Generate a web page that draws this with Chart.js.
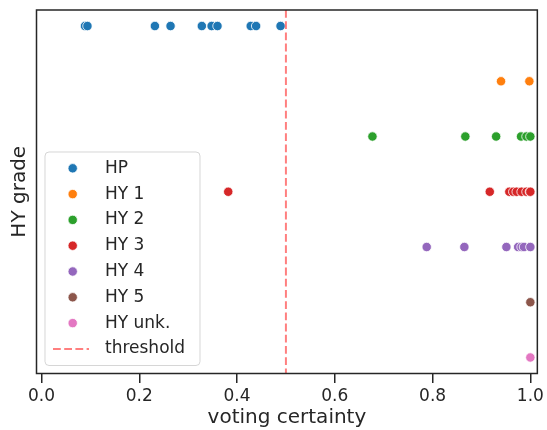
<!DOCTYPE html>
<html>
<head>
<meta charset="utf-8">
<script src="https://cdn.jsdelivr.net/npm/chart.js@4.4.0/dist/chart.umd.min.js"></script>
<style>
  html, body { margin: 0; padding: 0; background: #fff; }
  canvas { display: block; }
</style>
</head>
<body>
<canvas id="c" width="547" height="430"></canvas>
<script>
// ---- data ----
const categories = ['HP', 'HY 1', 'HY 2', 'HY 3', 'HY 4', 'HY 5', 'HY unk.'];
const hpValues    = [0.089, 0.094, 0.232, 0.264, 0.328, 0.348, 0.360, 0.428, 0.439, 0.489];
const hy1Values   = [0.940, 0.998];
const hy2Values   = [0.677, 0.867, 0.930, 0.981, 0.992, 1.0];
const hy3Values   = [0.382, 0.917, 0.957, 0.965, 0.972, 0.982, 0.992, 0.999, 1.0];
const hy4Values   = [0.788, 0.865, 0.951, 0.975, 0.982, 0.987, 1.0];
const hy5Values   = [1.0];
const hyUnkValues = [1.0];
const thresholdValue = 0.5;
const thresholdLabel = 'threshold';
const xTickValues = [0.0, 0.2, 0.4, 0.6, 0.8, 1.0];
const xAxisTitle = 'voting certainty';
const yAxisTitle = 'HY grade';

const seriesValues = [hpValues, hy1Values, hy2Values, hy3Values, hy4Values, hy5Values, hyUnkValues];

// ---- style ----
const palette = ['#1f77b4', '#ff7f0e', '#2ca02c', '#d62728', '#9467bd', '#8c564b', '#e377c2'];
const textColor = '#262626';
const fontFamily = '"DejaVu Sans", sans-serif';
const xMin = -0.0102, xMax = 1.0143;
const yMin = -0.29, yMax = 6.29;

const pointDatasets = categories.map((name, i) => ({
  label: name,
  type: 'scatter',
  data: seriesValues[i].map(v => ({ x: v, y: i })),
  backgroundColor: palette[i],
  borderColor: '#ffffff',
  pointRadius: 4.7,
  pointBorderWidth: 0.8,
  pointHoverRadius: 4.7,
}));

const thresholdDataset = {
  label: thresholdLabel,
  type: 'line',
  data: [{ x: thresholdValue, y: yMin }, { x: thresholdValue, y: yMax }],
  borderColor: 'rgba(255,0,0,0.5)',
  borderWidth: 2,
  borderDash: [7.8, 3.4],
  pointRadius: 0,
  fill: false,
  isThreshold: true,
};

const framePlugin = {
  id: 'frame',
  afterDraw(chart) {
    const { ctx, chartArea: a } = chart;
    ctx.save();
    ctx.strokeStyle = textColor;
    ctx.lineWidth = 1.5;
    ctx.strokeRect(a.left, a.top, a.right - a.left, a.bottom - a.top);
    ctx.restore();
  }
};

const legendPlugin = {
  id: 'innerLegend',
  afterDraw(chart) {
    const { ctx, chartArea: a } = chart;
    const ds = chart.data.datasets;
    const ordered = ds.filter(d => !d.isThreshold).concat(ds.filter(d => d.isThreshold));
    const boxL = a.left + 8.5, boxR = a.left + 163.5;
    const boxB = a.bottom - 8, boxT = boxB - 213.5;
    ctx.save();
    ctx.beginPath();
    const r = 4;
    ctx.moveTo(boxL + r, boxT);
    ctx.arcTo(boxR, boxT, boxR, boxB, r);
    ctx.arcTo(boxR, boxB, boxL, boxB, r);
    ctx.arcTo(boxL, boxB, boxL, boxT, r);
    ctx.arcTo(boxL, boxT, boxR, boxT, r);
    ctx.closePath();
    ctx.fillStyle = 'rgba(255,255,255,0.8)';
    ctx.fill();
    ctx.strokeStyle = 'rgba(204,204,204,0.8)';
    ctx.lineWidth = 1;
    ctx.stroke();
    ctx.font = '17px ' + fontFamily;
    ctx.textBaseline = 'middle';
    ctx.fillStyle = textColor;
    ordered.forEach((d, i) => {
      const y = boxT + 16.3 + i * 25.8;
      if (d.isThreshold) {
        ctx.save();
        ctx.strokeStyle = d.borderColor;
        ctx.lineWidth = d.borderWidth;
        ctx.setLineDash(d.borderDash);
        ctx.beginPath();
        ctx.moveTo(boxL + 8, y);
        ctx.lineTo(boxL + 44, y);
        ctx.stroke();
        ctx.restore();
      } else {
        ctx.beginPath();
        ctx.arc(boxL + 27.7, y, 4.7, 0, Math.PI * 2);
        ctx.fillStyle = d.backgroundColor;
        ctx.fill();
        ctx.strokeStyle = '#fff';
        ctx.lineWidth = 0.8;
        ctx.stroke();
      }
      ctx.fillStyle = textColor;
      ctx.fillText(d.label, boxL + 60, y);
    });
    ctx.restore();
  }
};

new Chart(document.getElementById('c'), {
  type: 'scatter',
  data: { datasets: [thresholdDataset].concat(pointDatasets) },
  options: {
    responsive: false,
    devicePixelRatio: 1,
    animation: false,
    layout: { padding: { top: 10, right: 9.5, left: 0, bottom: 0 } },
    plugins: { legend: { display: false }, tooltip: { enabled: false } },
    scales: {
      x: {
        type: 'linear',
        min: xMin,
        max: xMax,
        afterBuildTicks: s => { s.ticks = xTickValues.map(v => ({ value: v })); },
        afterFit: s => { s.height = 56.5; },
        ticks: {
          font: { family: fontFamily, size: 17 },
          color: textColor,
          padding: 3,
          maxRotation: 0,
          autoSkip: false,
          callback: v => Number(v).toFixed(1),
        },
        grid: { display: true, drawOnChartArea: false, drawTicks: true, tickLength: 9.5, lineWidth: 1.5, color: textColor },
        border: { display: false },
        title: { display: true, text: xAxisTitle, color: textColor, font: { family: fontFamily, size: 20 }, padding: { top: 0, bottom: 0 } },
      },
      y: {
        type: 'linear',
        reverse: true,
        min: yMin,
        max: yMax,
        afterFit: s => { s.width = 36.5; },
        ticks: { display: false },
        grid: { display: false },
        border: { display: false },
        title: { display: true, text: yAxisTitle, color: textColor, font: { family: fontFamily, size: 20 }, padding: { top: 8, bottom: 0 } },
      }
    }
  },
  plugins: [framePlugin, legendPlugin]
});
</script>
</body>
</html>
